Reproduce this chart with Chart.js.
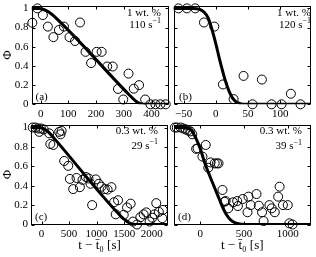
<!DOCTYPE html>
<html lang="en">
<head>
<meta charset="UTF-8">
<title>Phi vs t - t0</title>
<script src="https://cdn.jsdelivr.net/npm/chart.js"></script>
<style>
  html, body { margin: 0; padding: 0; background: #fff; overflow: hidden; }
  #wrap { position: relative; width: 316px; height: 257px; }
  #wrap canvas { position: absolute; left: 0; top: 0; }
</style>
</head>
<body>
<div id="wrap">
  <canvas id="pa" width="316" height="257"></canvas>
  <canvas id="pb" width="316" height="257"></canvas>
  <canvas id="pc" width="316" height="257"></canvas>
  <canvas id="pd" width="316" height="257"></canvas>
</div>
<script>
// (a) 1 wt. %, 110 1/s
const tA   = [-30, -11.5, 8, 26, 46, 66, 84, 104, 124, 142, 162, 182, 202, 220, 240, 260, 279, 298, 317, 336, 355, 377, 396, 414, 432, 451];
const phiA = [0.85, 1.0, 0.93, 0.81, 0.70, 0.775, 0.81, 0.70, 0.66, 0.853, 0.547, 0.43, 0.547, 0.547, 0.394, 0.394, 0.16, 0.05, 0.32, 0.163, 0.2, 0.05, 0, 0, 0, 0];
const fitTA   = [-33, -5, 5, 15, 25, 35, 50, 320, 335, 345, 355, 365, 375, 463];
const fitPhiA = [1, 1, 0.995, 0.985, 0.97, 0.95, 0.915, 0.097, 0.055, 0.03, 0.012, 0.003, 0, 0];

// (b) 1 wt. %, 120 1/s
const tB   = [-58, -45, -32, -18.5, -2.4, 11, 27.6, 43, 57, 71.5, 86.5, 102, 116.5, 131.5];
const phiB = [1, 1, 1, 0.853, 0.81, 0.207, 0.054, 0.296, 0, 0.258, 0, 0, 0.11, 0];
const fitTB   = [-65, -35, -25, -18, -12, -6, 0, 5, 10, 15, 20, 25, 30, 37, 45, 147];
const fitPhiB = [1, 1, 0.99, 0.96, 0.9, 0.78, 0.63, 0.49, 0.36, 0.24, 0.145, 0.075, 0.033, 0.01, 0, 0];

// (c) 0.3 wt. %, 29 1/s
const tC   = [-160, -110, -60, -40, -10, 40, 140, 160, 215, 320, 345, 365, 412, 485, 515, 575, 636, 696, 745, 805, 853, 890, 919, 985, 1040, 1088, 1148, 1200, 1269, 1317, 1347, 1389, 1492, 1552, 1618, 1660, 1733, 1794, 1853, 1902, 1962, 2011, 2052, 2083, 2130, 2192, 2203];
const phiC = [1.0, 1.0, 0.99, 0.955, 0.99, 0.98, 0.94, 0.83, 0.82, 0.955, 0.93, 0.965, 0.655, 0.605, 0.47, 0.365, 0.48, 0.385, 0.46, 0.49, 0.475, 0.42, 0.2, 0.465, 0.42, 0.39, 0.365, 0.36, 0.385, 0.23, 0.105, 0.25, 0.1, 0.175, 0.215, 0.03, 0, 0.075, 0.105, 0.125, 0.03, 0.07, 0.105, 0.22, 0.13, 0.065, 0.15];
const fitTC   = [-191, -60, 0, 50, 100, 150, 250, 1450, 1520, 1580, 1640, 1700, 2296];
const fitPhiC = [1, 1, 0.995, 0.985, 0.965, 0.94, 0.875, 0.08, 0.045, 0.02, 0.006, 0, 0];

// (d) 0.3 wt. %, 39 1/s
const tD   = [-290, -268, -224, -195, -165, -140, -113, -91, -47, -30, 25, 63, 92, 118, 165, 191, 209, 254, 276, 290, 320, 375, 422, 430, 485, 540, 551, 577, 643, 669, 706, 724, 790, 816, 852, 890, 907, 945, 1000, 1018, 1055];
const phiD = [1, 1, 1, 0.99, 0.98, 0.97, 0.96, 0.93, 0.78, 0.785, 0.70, 0.82, 0.585, 0.64, 0.63, 0.63, 0.63, 0.356, 0.235, 0.242, 0.167, 0.229, 0.242, 0.19, 0.263, 0.126, 0.287, 0.2, 0.314, 0.194, 0.126, 0.036, 0.2, 0.167, 0.126, 0.287, 0.39, 0.2, 0.2, 0.012, 0];
const fitTD   = [-300, -200, -150, -100, -50, 0, 50, 100, 150, 200, 250, 300, 350, 400, 450, 500, 1260];
const fitPhiD = [1, 1, 0.995, 0.97, 0.89, 0.78, 0.64, 0.52, 0.41, 0.3, 0.19, 0.1, 0.045, 0.018, 0.005, 0, 0];

const xTicksA = [0, 100, 200, 300, 400];
const xTicksB = [-50, 0, 50, 100];
const xTicksC = [0, 500, 1000, 1500, 2000];
const xTicksD = [0, 500, 1000];
const phiTicks = [0, 0.2, 0.4, 0.6, 0.8, 1];

const concText = ['1 wt. %', '1 wt. %', '0.3 wt. %', '0.3 wt. %'];
const rateText = ['110', '120', '29', '39'];
const tagText  = ['(a)', '(b)', '(c)', '(d)'];

const W = 316, H = 257;
const SERIF = '"Liberation Serif", "DejaVu Serif", serif';

// frame with inward tick marks on all four sides, like the original figure
const frame = {
  id: 'frame',
  beforeDatasetsDraw(chart) {
    const { ctx, chartArea: a, scales: { x, y } } = chart;
    const L = Math.round(a.left) + 0.5, R = Math.round(a.right) - 0.5;
    const T = Math.round(a.top) + 0.5, B = Math.round(a.bottom) - 0.5;
    ctx.save();
    ctx.strokeStyle = '#000';
    ctx.lineWidth = 1;
    ctx.strokeRect(L, T, R - L, B - T);
    ctx.beginPath();
    x.ticks.forEach(t => {
      const px = Math.round(x.getPixelForValue(t.value)) + 0.5;
      ctx.moveTo(px, B); ctx.lineTo(px, B - 3);
      ctx.moveTo(px, T); ctx.lineTo(px, T + 3);
    });
    y.ticks.forEach(t => {
      const py = Math.round(y.getPixelForValue(t.value)) + 0.5;
      ctx.moveTo(L, py); ctx.lineTo(L + 3, py);
      ctx.moveTo(R, py); ctx.lineTo(R - 3, py);
    });
    ctx.stroke();
    ctx.restore();
  }
};

function notes(p) {
  return {
    id: 'notes',
    afterDraw(chart) {
      const ctx = chart.ctx, n = p.note;
      ctx.save();
      ctx.fillStyle = '#000';
      ctx.textBaseline = 'middle';
      ctx.font = '11px ' + SERIF;
      ctx.textAlign = 'right';
      ctx.fillText(p.conc, n.r, n.y1);
      ctx.font = '8px ' + SERIF;
      const sw = ctx.measureText('\u22121').width;
      ctx.textAlign = 'left';
      ctx.fillText('\u22121', n.r - sw, n.y2 - 4);
      ctx.font = '11px ' + SERIF;
      ctx.textAlign = 'right';
      ctx.fillText(p.rate + ' s', n.r - sw, n.y2);
      ctx.textAlign = 'left';
      ctx.fillText(p.tag, n.tl, n.ty);
      ctx.restore();
    }
  };
}

const fmt = v => v < 0 ? '\u2212' + Math.abs(v) : String(v);

function drawPanel(id, p) {
  const yW = p.yLabels ? p.box.l : 0;
  const xH = p.xTitle ? 32 : 20;
  new Chart(document.getElementById(id), {
    type: 'scatter',
    data: {
      datasets: [
        {
          data: p.fitT.map((t, i) => ({ x: t, y: p.fitPhi[i] })),
          showLine: true,
          pointRadius: 0,
          borderColor: '#000',
          borderWidth: 3,
          cubicInterpolationMode: 'monotone'
        },
        {
          data: p.t.map((t, i) => ({ x: t, y: p.phi[i] })),
          pointRadius: 4.5,
          pointBorderWidth: 1,
          pointBorderColor: '#000',
          pointBackgroundColor: 'rgba(0,0,0,0)',
          clip: false
        }
      ]
    },
    options: {
      responsive: false,
      animation: false,
      devicePixelRatio: 1,
      layout: { padding: { left: p.box.l - yW, top: p.box.t, right: W - p.box.r, bottom: H - p.box.b - xH } },
      plugins: { legend: { display: false }, tooltip: { enabled: false } },
      scales: {
        x: {
          type: 'linear', min: p.xMin, max: p.xMax,
          grid: { display: false, drawTicks: false }, border: { display: false },
          afterBuildTicks: s => { s.ticks = p.xTicks.map(v => ({ value: v })); },
          afterFit: s => { s.height = xH; s.paddingLeft = 0; s.paddingRight = 0; },
          ticks: { color: '#000', font: { family: SERIF, size: 11 }, padding: 3, maxRotation: 0, autoSkip: false, callback: fmt },
          title: { display: p.xTitle, text: 't \u2212 t\u0304\u2080 [s]', color: '#000', font: { family: SERIF, size: 13 }, padding: { top: 0, bottom: 3.5 } }
        },
        y: {
          type: 'linear', min: 0, max: 1.03,
          grid: { display: false, drawTicks: false }, border: { display: false },
          afterBuildTicks: s => { s.ticks = phiTicks.map(v => ({ value: v })); },
          afterFit: s => { s.width = yW; s.paddingTop = 0; s.paddingBottom = 0; },
          ticks: { display: p.yLabels, color: '#000', font: { family: SERIF, size: 11 }, padding: 3, autoSkip: false, callback: v => String(v) },
          title: { display: p.yLabels, text: '\u03A6', color: '#000', font: { family: SERIF, size: 13 }, padding: 0 }
        }
      }
    },
    plugins: [frame, notes(p)]
  });
}

drawPanel('pa', { t: tA, phi: phiA, fitT: fitTA, fitPhi: fitPhiA, xTicks: xTicksA, xMin: -33, xMax: 463,
  box: { l: 31.5, r: 169, t: 3, b: 104.3 }, yLabels: true, xTitle: false,
  conc: concText[0], rate: rateText[0], tag: tagText[0], note: { r: 161, y1: 12.7, y2: 25, tl: 35.5, ty: 97.5 } });
drawPanel('pb', { t: tB, phi: phiB, fitT: fitTB, fitPhi: fitPhiB, xTicks: xTicksB, xMin: -65, xMax: 147,
  box: { l: 174, r: 315, t: 3, b: 104.3 }, yLabels: false, xTitle: false,
  conc: concText[1], rate: rateText[1], tag: tagText[1], note: { r: 311, y1: 13, y2: 25, tl: 179, ty: 97.5 } });
drawPanel('pc', { t: tC, phi: phiC, fitT: fitTC, fitPhi: fitPhiC, xTicks: xTicksC, xMin: -191, xMax: 2296,
  box: { l: 31, r: 168, t: 124.6, b: 224.5 }, yLabels: true, xTitle: true,
  conc: concText[2], rate: rateText[2], tag: tagText[2], note: { r: 158, y1: 131, y2: 146, tl: 35, ty: 217.5 } });
drawPanel('pd', { t: tD, phi: phiD, fitT: fitTD, fitPhi: fitPhiD, xTicks: xTicksD, xMin: -300, xMax: 1260,
  box: { l: 174, r: 315, t: 124.6, b: 224.5 }, yLabels: false, xTitle: true,
  conc: concText[3], rate: rateText[3], tag: tagText[3], note: { r: 302, y1: 131.5, y2: 146.5, tl: 178, ty: 217.5 } });
</script>
</body>
</html>
